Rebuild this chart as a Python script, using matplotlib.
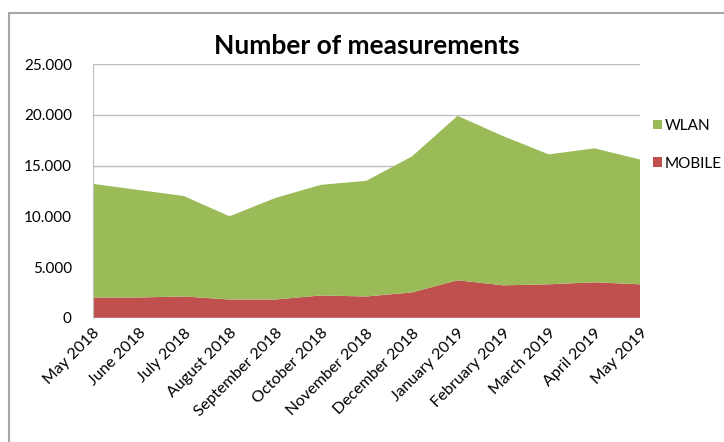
import matplotlib
matplotlib.use("Agg")
import matplotlib.pyplot as plt
from matplotlib.patches import Rectangle
from matplotlib.ticker import FuncFormatter

months = ["May 2018", "June 2018", "July 2018", "August 2018", "September 2018",
          "October 2018", "November 2018", "December 2018", "January 2019",
          "February 2019", "March 2019", "April 2019", "May 2019"]
mobile = [2000, 2000, 2100, 1800, 1800, 2200, 2100, 2500, 3700, 3200, 3300, 3500, 3300]
wlan = [11200, 10600, 9900, 8200, 10000, 10900, 11400, 13400, 16200, 14700, 12800, 13200, 12300]

plt.rcParams['font.family'] = ['Lato', 'DejaVu Sans']

fig = plt.figure(figsize=(7.24, 4.42), dpi=100)
ax = fig.add_axes([0.128, 0.281, 0.756, 0.574])

x = range(len(months))
ax.stackplot(x, mobile, wlan, colors=["#C0504D", "#9BBB59"],
             labels=["MOBILE", "WLAN"], zorder=2)

ax.set_xlim(0, len(months) - 1)
ax.set_ylim(0, 25000)
ax.set_yticks(range(0, 25001, 5000))
ax.yaxis.set_major_formatter(FuncFormatter(lambda v, p: f"{int(v):,}".replace(",", ".")))
ax.grid(axis="y", color="#BFBFBF", lw=1, zorder=1)
ax.set_xticks(list(x))
ax.set_xticklabels(months, rotation=45, ha="right", rotation_mode="anchor")
ax.tick_params(axis="y", length=0, labelsize=11, pad=15)
ax.tick_params(axis="x", length=0, labelsize=11.5, pad=6)
for s in ["top", "right", "bottom"]:
    ax.spines[s].set_visible(False)
ax.spines["left"].set_color("#BFBFBF")

ax.set_title("Number of measurements", fontsize=19, fontweight="bold", pad=7)

h, l = ax.get_legend_handles_labels()
fig.legend(h[::-1], l[::-1], loc="upper left", bbox_to_anchor=(0.893, 0.745),
           frameon=False, fontsize=11, handlelength=0.6, handleheight=0.6,
           handletextpad=0.2, labelspacing=1.55, borderaxespad=0)

# outer chart frame
fig.patches.append(Rectangle((0.013, -0.01), 1.0, 0.98, transform=fig.transFigure,
                             fill=False, edgecolor="#A6A6A6", lw=1.5))

fig.savefig("out.png", dpi=100)
